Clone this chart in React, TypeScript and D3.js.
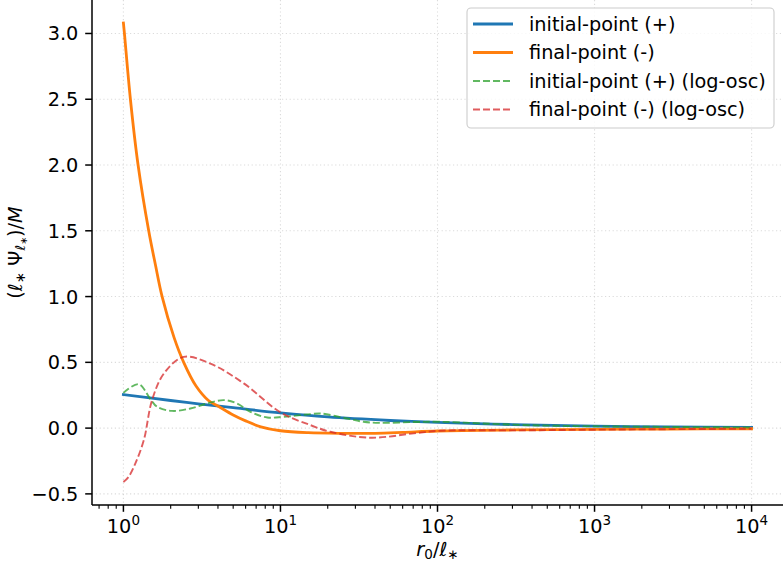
import React from 'react';
import * as d3 from 'd3';

const W = 783;
const H = 568;
const M = { left: 92, right: 0, top: 0, bottom: 63 };
const FS = 19.3;
const FONT = '"DejaVu Sans", sans-serif';

// --- data ---
const blueX = [1, 2, 3, 5, 10, 20, 50, 100, 300, 1000, 3000, 10000];
const blueY = [0.255, 0.21, 0.185, 0.155, 0.116, 0.085, 0.058, 0.043, 0.027, 0.015, 0.009, 0.005];

const orangeX = [1, 1.015, 1.108, 1.24, 1.449, 1.6, 1.764, 2.1, 2.42, 2.9, 3.48, 4.0, 5.0, 6.0, 7.5, 10, 15, 25, 40, 60, 100, 300, 1000, 3000, 10000];
const orangeY = [3.08, 3.0, 2.5, 2.0, 1.5, 1.24, 1.0, 0.69, 0.5, 0.32, 0.21, 0.168, 0.1, 0.055, 0.01, -0.02, -0.035, -0.04, -0.04, -0.033, -0.022, -0.014, -0.01, -0.007, -0.005];

const greenX = [1, 1.25, 1.49, 1.64, 2.04, 2.67, 3.41, 4.36, 5.3, 6.44, 8.24, 10.5, 15.5, 18, 26.6, 33.8, 43, 70, 104, 188, 392, 1000, 3000, 10000];
const greenY = [0.268, 0.334, 0.218, 0.162, 0.131, 0.149, 0.187, 0.213, 0.187, 0.124, 0.081, 0.086, 0.106, 0.111, 0.073, 0.048, 0.04, 0.046, 0.048, 0.036, 0.022, 0.014, 0.009, 0.005];

const redX = [1, 1.08, 1.19, 1.35, 1.52, 1.81, 2.42, 3.58, 5.84, 10, 15.5, 20.8, 37.4, 70.6, 104, 340, 1000, 3000, 10000];
const redY = [-0.41, -0.37, -0.27, -0.09, 0.21, 0.415, 0.541, 0.49, 0.34, 0.12, 0.023, -0.028, -0.073, -0.04, -0.02, -0.017, -0.012, -0.008, -0.005];

const seriesNames = ['initial-point (+)', 'final-point (-)', 'initial-point (+) (log-osc)', 'final-point (-) (log-osc)'];
const seriesColors = ['#1f77b4', '#ff7f0e', '#2ca02c', '#d62728'];
const seriesDashed = [false, false, true, true];

const xMajorTicks = [1, 10, 100, 1000, 10000];
const xTickExponents = ['0', '1', '2', '3', '4'];
const yTicks = [-0.5, 0, 0.5, 1, 1.5, 2, 2.5, 3];

const seriesX = [blueX, orangeX, greenX, redX];
const seriesY = [blueY, orangeY, greenY, redY];

export default function App() {
  const allY = seriesY.flat();
  const yMin = d3.min(allY)!;
  const yMax = d3.max(allY)!;
  const yPad = 0.05 * (yMax - yMin);
  const lx0 = Math.log10(1), lx1 = Math.log10(10000);
  const lPad = 0.05 * (lx1 - lx0);

  const x = d3.scaleLog().domain([10 ** (lx0 - lPad), 10 ** (lx1 + lPad)]).range([M.left, W - M.right]);
  const y = d3.scaleLinear().domain([yMin - yPad, yMax + yPad]).range([H - M.bottom, M.top]);

  const line = d3
    .line<[number, number]>()
    .x((d) => x(d[0]))
    .y((d) => y(d[1]))
    .curve(d3.curveCatmullRom.alpha(0.5));

  const [d0, d1] = x.domain();
  const minor: number[] = [];
  for (let e = -1; e <= 4; e++) {
    for (let m = 2; m <= 9; m++) {
      const v = m * 10 ** e;
      if (v >= d0 && v <= d1) minor.push(v);
    }
  }

  const bottom = H - M.bottom;
  const tickLen = 6.8;
  const pad = 6.8;

  const legX = 467, legY = 8, legW = 307, legH = 120;
  const rowY = [24, 52.5, 81, 109.5];

  return (
    <svg width={W} height={H} style={{ position: 'absolute', left: 0, top: 0, display: 'block', background: '#fff' }} fontFamily={FONT}>
      {/* grid */}
      <g stroke="#b0b0b0" strokeOpacity={0.45} strokeWidth={1.1} strokeDasharray="1.2,2.6">
        {xMajorTicks.map((t) => (
          <line key={'gx' + t} x1={x(t)} x2={x(t)} y1={M.top} y2={bottom} />
        ))}
        {yTicks.map((t) => (
          <line key={'gy' + t} x1={M.left} x2={W - M.right} y1={y(t)} y2={y(t)} />
        ))}
      </g>

      {/* series */}
      <g fill="none">
        {seriesX.map((xs, i) => {
          const pts = xs.map((v, j) => [v, seriesY[i][j]] as [number, number]);
          return (
            <path
              key={i}
              d={line(pts) || ''}
              stroke={seriesColors[i]}
              strokeWidth={seriesDashed[i] ? 1.9 : 2.8}
              strokeOpacity={seriesDashed[i] ? 0.75 : 1}
              strokeDasharray={seriesDashed[i] ? '7,3' : undefined}
              strokeLinecap={seriesDashed[i] ? 'butt' : 'square'}
              strokeLinejoin="round"
            />
          );
        })}
      </g>

      {/* spines */}
      <line x1={M.left} x2={M.left} y1={M.top} y2={bottom} stroke="#000" strokeWidth={1.5} />
      <line x1={M.left} x2={W - M.right} y1={bottom} y2={bottom} stroke="#000" strokeWidth={1.5} />

      {/* ticks */}
      <g stroke="#000">
        {xMajorTicks.map((t) => (
          <line key={'xt' + t} x1={x(t)} x2={x(t)} y1={bottom} y2={bottom + tickLen} strokeWidth={1.5} />
        ))}
        {minor.map((t) => (
          <line key={'xm' + t} x1={x(t)} x2={x(t)} y1={bottom} y2={bottom + 3.8} strokeWidth={1.1} />
        ))}
        {yTicks.map((t) => (
          <line key={'yt' + t} x1={M.left - tickLen} x2={M.left} y1={y(t)} y2={y(t)} strokeWidth={1.5} />
        ))}
      </g>

      {/* x tick labels */}
      <g fontSize={FS} textAnchor="middle" fill="#000">
        {xMajorTicks.map((t, i) => (
          <text key={'xl' + t} x={x(t)} y={533}>
            10
            <tspan dy={-8} fontSize={FS * 0.7}>
              {xTickExponents[i]}
            </tspan>
          </text>
        ))}
      </g>

      {/* y tick labels */}
      <g fontSize={FS} textAnchor="end" fill="#000">
        {yTicks.map((t) => (
          <text key={'yl' + t} x={M.left - tickLen - pad} y={y(t)} dy="0.36em">
            {t.toFixed(1).replace('-', '\u2212')}
          </text>
        ))}
      </g>

      {/* x label */}
      <text x={(M.left + W - M.right) / 2} y={556} fontSize={FS} textAnchor="middle" fill="#000">
        <tspan fontStyle="italic">r</tspan>
        <tspan fontSize={FS * 0.7} dy={3}>0</tspan>
        <tspan dy={-3}>/</tspan>
        <tspan fontStyle="italic">ℓ</tspan>
        <tspan fontSize={FS * 0.7} dy={3}>∗</tspan>
      </text>

      {/* y label */}
      <g transform={`translate(22, ${(M.top + bottom) / 2}) rotate(-90)`}>
        <text x={0} y={0} fontSize={FS} textAnchor="middle" fill="#000">
          <tspan>(</tspan>
          <tspan fontStyle="italic">ℓ</tspan>
          <tspan fontSize={FS * 0.7} dy={3}>∗</tspan>
          <tspan dy={-3}> Ψ</tspan>
          <tspan fontSize={FS * 0.7} fontStyle="italic" dy={3}>ℓ</tspan>
          <tspan fontSize={FS * 0.5} dy={2}>∗</tspan>
          <tspan dy={-5}>)/</tspan>
          <tspan fontStyle="italic">M</tspan>
        </text>
      </g>

      {/* legend */}
      <g>
        <rect x={legX} y={legY} width={legW} height={legH} rx={4} ry={4} fill="#fff" fillOpacity={0.8} stroke="#cccccc" strokeWidth={1.1} />
        {seriesNames.map((name, i) => (
          <g key={'lg' + i}>
            <line
              x1={473}
              x2={513}
              y1={rowY[i]}
              y2={rowY[i]}
              stroke={seriesColors[i]}
              strokeWidth={seriesDashed[i] ? 1.9 : 2.8}
              strokeOpacity={seriesDashed[i] ? 0.75 : 1}
              strokeDasharray={seriesDashed[i] ? '7,3' : undefined}
            />
            <text x={529} y={rowY[i]} dy="0.36em" fontSize={FS} fill="#000">
              {name}
            </text>
          </g>
        ))}
      </g>
    </svg>
  );
}
